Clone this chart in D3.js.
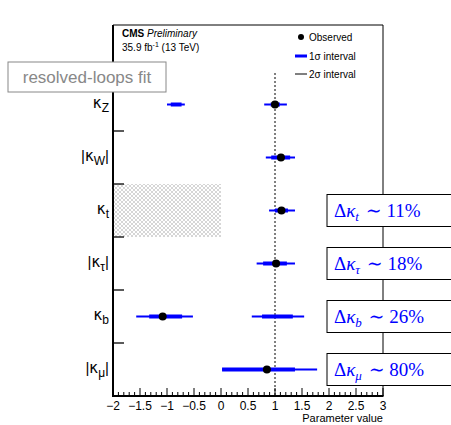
<!DOCTYPE html>
<html>
<head>
<meta charset="utf-8">
<script src="https://cdn.jsdelivr.net/npm/d3@7"></script>
<style>
  body { margin: 0; background: #fff; }
  svg { display: block; }
</style>
</head>
<body>
<svg id="chart" width="451" height="425" font-family="Liberation Sans, Arial, sans-serif"></svg>
<script>
// Coupling modifiers, top to bottom (the first row is left empty for the legend)
const categories = ["", "Z", "W", "t", "τ", "b", "μ"];
const absValue   = [false, false, true, false, true, false, true];

// Observed best-fit values
const observed = [
  { cat: "Z", value: 1.0 },
  { cat: "W", value: 1.11 },
  { cat: "t", value: 1.12 },
  { cat: "τ", value: 1.02 },
  { cat: "b", value: -1.08 },
  { cat: "μ", value: 0.85 }
];

// 1σ intervals (a coupling may have more than one allowed region)
const sigma1 = [
  { cat: "Z", lo: 0.92, hi: 1.09 },
  { cat: "Z", lo: -0.93, hi: -0.73 },
  { cat: "W", lo: 0.93, hi: 1.28 },
  { cat: "t", lo: 1.0, hi: 1.24 },
  { cat: "τ", lo: 0.78, hi: 1.22 },
  { cat: "b", lo: -1.33, hi: -0.72 },
  { cat: "b", lo: 0.76, hi: 1.33 },
  { cat: "μ", lo: 0.02, hi: 1.37 }
];

// 2σ intervals
const sigma2 = [
  { cat: "Z", lo: 0.8, hi: 1.22 },
  { cat: "Z", lo: -1.0, hi: -0.67 },
  { cat: "W", lo: 0.83, hi: 1.37 },
  { cat: "t", lo: 0.89, hi: 1.37 },
  { cat: "τ", lo: 0.66, hi: 1.37 },
  { cat: "b", lo: -1.57, hi: -0.52 },
  { cat: "b", lo: 0.57, hi: 1.54 },
  { cat: "μ", lo: 0.02, hi: 1.78 }
];

// Excluded region for κt
const excluded = [{ cat: "t", lo: -2, hi: 0 }];

// Projected precision annotations
const precision = [
  { cat: "t", sub: "t", pct: "11%" },
  { cat: "τ", sub: "τ", pct: "18%" },
  { cat: "b", sub: "b", pct: "26%" },
  { cat: "μ", sub: "μ", pct: "80%" }
];

const xTicks = [-2, -1.5, -1, -0.5, 0, 0.5, 1, 1.5, 2, 2.5, 3];
const xTickLabels = ["\u22122", "\u22121.5", "\u22121", "\u22120.5", "0", "0.5", "1", "1.5", "2", "2.5", "3"];
const smValue = [1];

const svg = d3.select("#chart");
const L = 113, R = 383, T = 25, B = 396;

const x = d3.scaleLinear().domain([-2, 3]).range([L, R]);
const y = d3.scaleBand().domain(categories).range([T, B]).paddingInner(0).paddingOuter(0);
const yc = c => y(c) + y.bandwidth() / 2;

// Cross-hatch pattern for the excluded region
const defs = svg.append("defs");
const pat = defs.append("pattern").attr("id", "hatch").attr("patternUnits", "userSpaceOnUse")
  .attr("width", 4).attr("height", 4);
pat.append("rect").attr("width", 4).attr("height", 4).attr("fill", "#fff");
pat.append("path").attr("d", "M0,0L4,4M4,0L0,4").attr("stroke", "#c4c4c4").attr("stroke-width", 0.7);

svg.append("g").selectAll("rect").data(excluded).join("rect")
  .attr("x", d => x(d.lo) + 1).attr("width", d => x(d.hi) - x(d.lo) - 1)
  .attr("y", d => y(d.cat)).attr("height", y.bandwidth())
  .attr("fill", "url(#hatch)");

// Frame (top and right edges)
svg.append("path").attr("d", `M${L},${T}H${R}V${B}`).attr("fill", "none").attr("stroke", "#000").attr("stroke-width", 1);

// SM reference line
svg.append("g").selectAll("line").data(smValue).join("line")
  .attr("x1", d => x(d)).attr("x2", d => x(d))
  .attr("y1", 73).attr("y2", B)
  .attr("stroke", "#000").attr("stroke-width", 1).attr("stroke-dasharray", "2,2");

// Bottom axis: majors every 0.5, minors every 0.1
const gx = svg.append("g");
const minors = d3.range(-2, 3.0001, 0.1).map(v => +v.toFixed(2));
gx.selectAll("line.minor").data(minors).join("line")
  .attr("x1", d => x(d)).attr("x2", d => x(d))
  .attr("y1", B).attr("y2", d => (Math.abs(d * 2 - Math.round(d * 2)) < 1e-6) ? B - 8 : B - 4)
  .attr("stroke", "#000").attr("stroke-width", 1);
gx.append("line").attr("x1", L - 1).attr("x2", R + 0.5).attr("y1", B).attr("y2", B)
  .attr("stroke", "#000").attr("stroke-width", 2);
gx.selectAll("text").data(xTicks).join("text")
  .attr("x", d => x(d)).attr("y", B + 14)
  .attr("text-anchor", "middle").attr("font-size", 12).text((d, i) => xTickLabels[i]);
svg.append("text").attr("x", R).attr("y", B + 26).attr("text-anchor", "end")
  .attr("font-size", 11).text("Parameter value");

// Left axis: ticks at category boundaries
const gy = svg.append("g");
const bounds = categories.slice(1).map(c => y(c));
gy.selectAll("line.tk").data(bounds).join("line")
  .attr("x1", L).attr("x2", L + 11).attr("y1", d => d).attr("y2", d => d)
  .attr("stroke", "#000").attr("stroke-width", 1.3);
gy.append("line").attr("x1", L).attr("x2", L).attr("y1", T).attr("y2", B + 1)
  .attr("stroke", "#000").attr("stroke-width", 2);

// Category labels
categories.forEach((c, i) => {
  if (!c) return;
  const t = gy.append("text").attr("x", L - 4).attr("y", yc(c) + 3)
    .attr("text-anchor", "end").attr("font-size", 15);
  if (absValue[i]) t.append("tspan").text("|");
  t.append("tspan").attr("font-family", "DejaVu Sans").attr("font-size", 15).text("κ");
  t.append("tspan").attr("dy", 4).attr("font-size", 12).text(c);
  if (absValue[i]) t.append("tspan").attr("dy", -4).text("|");
});

// 2σ intervals (thin)
svg.append("g").selectAll("line").data(sigma2).join("line")
  .attr("x1", d => x(d.lo)).attr("x2", d => x(d.hi))
  .attr("y1", d => yc(d.cat)).attr("y2", d => yc(d.cat))
  .attr("stroke", "#0000ff").attr("stroke-width", 2);

// 1σ intervals (thick)
svg.append("g").selectAll("line").data(sigma1).join("line")
  .attr("x1", d => x(d.lo)).attr("x2", d => x(d.hi))
  .attr("y1", d => yc(d.cat)).attr("y2", d => yc(d.cat))
  .attr("stroke", "#0000ff").attr("stroke-width", 4);

// Observed points
svg.append("g").selectAll("circle").data(observed).join("circle")
  .attr("cx", d => x(d.value)).attr("cy", d => yc(d.cat)).attr("r", 4).attr("fill", "#000");

// Precision annotations on the right edge
const ann = svg.append("g").selectAll("g").data(precision).join("g");
ann.append("rect")
  .attr("x", 327).attr("y", d => yc(d.cat) - 16).attr("width", 140).attr("height", 32)
  .attr("fill", "#fff").attr("stroke", "#000").attr("stroke-width", 1);
ann.each(function (d) {
  const t = d3.select(this).append("text").attr("x", 334).attr("y", yc(d.cat) + 6)
    .attr("fill", "#0000ff").attr("font-size", 19).attr("font-family", "Liberation Serif, DejaVu Serif, serif");
  t.append("tspan").text("Δ");
  t.append("tspan").attr("font-style", "italic").text("κ");
  t.append("tspan").attr("font-style", "italic").attr("font-size", 13).attr("dy", 4).text(d.sub);
  t.append("tspan").attr("dy", -4).attr("dx", 2).text(" ∼ " + d.pct);
});

// Header
const hd = svg.append("g");
const h1 = hd.append("text").attr("x", 122).attr("y", 37).attr("font-size", 10);
h1.append("tspan").attr("font-weight", "bold").text("CMS ");
h1.append("tspan").attr("font-style", "italic").text("Preliminary");
const h2 = hd.append("text").attr("x", 122).attr("y", 51).attr("font-size", 10);
h2.append("tspan").text("35.9 fb");
h2.append("tspan").attr("dy", -4).attr("font-size", 7).text("-1");
h2.append("tspan").attr("dy", 4).text(" (13 TeV)");

// Legend
const lg = svg.append("g").attr("font-size", 10);
lg.append("circle").attr("cx", 301).attr("cy", 37).attr("r", 3).attr("fill", "#000");
lg.append("text").attr("x", 309).attr("y", 41).text("Observed");
lg.append("line").attr("x1", 295).attr("x2", 307).attr("y1", 56).attr("y2", 56)
  .attr("stroke", "#0000ff").attr("stroke-width", 3);
lg.append("text").attr("x", 309).attr("y", 60).text("1σ interval");
lg.append("line").attr("x1", 295).attr("x2", 307).attr("y1", 74).attr("y2", 74)
  .attr("stroke", "#000").attr("stroke-width", 1);
lg.append("text").attr("x", 309).attr("y", 78).text("2σ interval");

// Fit label box
svg.append("rect").attr("x", 8).attr("y", 62).attr("width", 158).attr("height", 30)
  .attr("fill", "#fff").attr("stroke", "#888").attr("stroke-width", 1);
svg.append("text").attr("x", 87).attr("y", 83).attr("text-anchor", "middle")
  .attr("font-size", 17).attr("fill", "#888").text("resolved-loops fit");
</script>
</body>
</html>
